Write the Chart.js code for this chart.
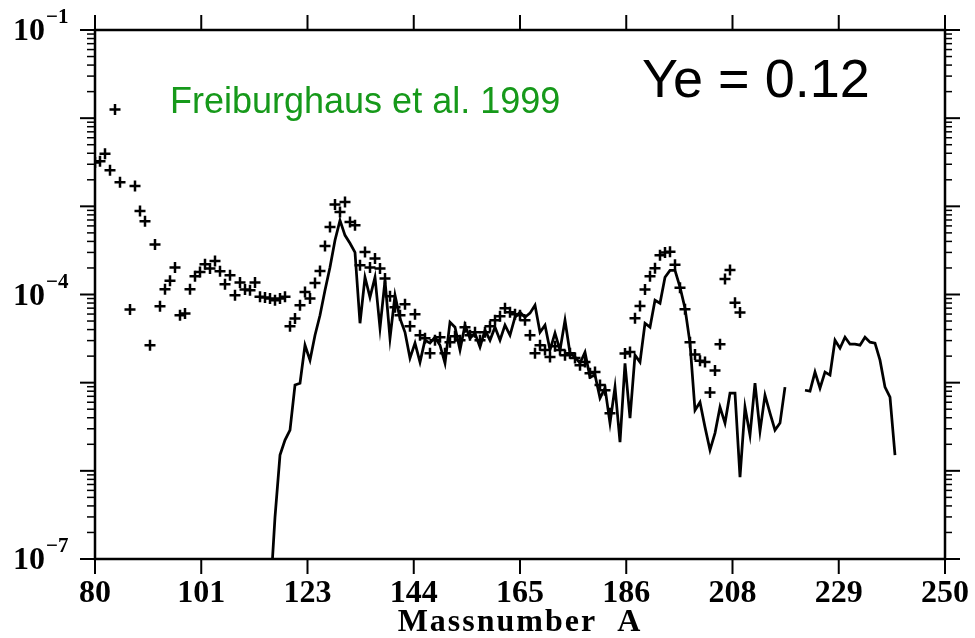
<!DOCTYPE html>
<html>
<head>
<meta charset="utf-8">
<script src="https://cdn.jsdelivr.net/npm/chart.js@4/dist/chart.umd.min.js"></script>
<style>
  html, body { margin: 0; padding: 0; background: #fff; }
  canvas { display: block; }
</style>
</head>
<body>
<canvas id="abund" width="975" height="638"></canvas>
<script>
// solar r-process abundances (crosses)
const solarA = [80, 81, 82, 83, 84, 85, 87, 88, 89, 90, 91, 92, 93, 94, 95, 96, 97, 98, 99,
  100, 101, 102, 103, 104, 105, 106, 107, 108, 109, 110, 111, 112, 113, 114, 115, 116, 117, 118, 119,
  120, 121, 122, 123, 124, 125, 126, 127, 128, 129, 130, 131, 132, 133, 134, 135, 136, 137, 138, 139,
  140, 141, 142, 143, 144, 145, 146, 147, 148, 149, 150, 151, 152, 153, 154, 155, 156, 157, 158, 159,
  160, 161, 162, 163, 164, 165, 166, 167, 168, 169, 170, 171, 172, 173, 174, 175, 176, 177, 178, 179,
  180, 181, 182, 183, 186, 187, 188, 189, 190, 191, 192, 193, 194, 195, 196, 197, 198, 199,
  200, 201, 202, 203, 204, 205, 206, 207, 208, 209];
const solarAbund = [3.15e-3, 3.24e-3, 3.96e-3, 2.56e-3, 1.25e-2, 1.88e-3, 6.76e-5, 1.70e-3, 8.85e-4, 6.76e-4,
  2.66e-5, 3.68e-4, 7.36e-5, 1.15e-4, 1.43e-4, 2.02e-4, 5.82e-5, 6.08e-5, 1.15e-4,
  1.61e-4, 1.80e-4, 2.20e-4, 1.97e-4, 2.40e-4, 1.83e-4, 1.31e-4, 1.65e-4, 9.8e-5, 1.37e-4,
  1.14e-4, 1.12e-4, 1.37e-4, 9.4e-5, 9.25e-5, 9.0e-5, 8.6e-5, 9.0e-5, 9.4e-5, 4.37e-5,
  5.35e-5, 7.56e-5, 1.07e-4, 9.0e-5, 1.35e-4, 1.85e-4, 3.55e-4, 5.83e-4, 1.05e-3, 8.62e-4,
  1.12e-3, 6.64e-4, 6.1e-4, 2.15e-4, 3.03e-4, 2.02e-4, 2.56e-4, 1.97e-4, 1.52e-4, 9.55e-5,
  7.18e-5, 5.82e-5, 7.76e-5, 4.37e-5, 5.97e-5, 3.45e-5, 3.19e-5, 2.16e-5, 3.03e-5, 3.28e-5,
  2.16e-5, 2.88e-5, 3.37e-5, 3.03e-5, 4.26e-5, 3.45e-5, 3.73e-5, 3.03e-5, 3.73e-5, 4.37e-5,
  5.11e-5, 5.67e-5, 6.98e-5, 6.30e-5, 5.97e-5, 5.82e-5, 5.11e-5, 3.45e-5, 2.16e-5, 2.66e-5,
  2.34e-5, 1.95e-5, 2.59e-5, 2.34e-5, 2.05e-5, 2.16e-5, 1.90e-5, 1.58e-5, 1.71e-5, 1.28e-5,
  1.32e-5, 9.4e-6, 8.2e-6, 4.51e-6, 2.14e-5, 2.23e-5, 5.38e-5, 7.42e-5, 1.14e-4, 1.61e-4,
  1.99e-4, 2.79e-4, 2.99e-4, 3.05e-4, 2.17e-4, 1.19e-4, 6.81e-5, 2.88e-5,
  2.08e-5, 1.77e-5, 1.72e-5, 7.75e-6, 1.37e-5, 2.73e-5, 1.50e-4, 1.90e-4, 8.07e-5, 6.25e-5];

// model abundances, one value per mass number starting at A = 115 (null = no value)
const modelStartA = 115;
const modelAbund = [3.43e-8, 2.99e-7, 1.51e-6, 2.23e-6, 2.90e-6,
  9.4e-6, 9.87e-6, 2.66e-5, 1.80e-5, 3.45e-5, 5.82e-5, 1.12e-4, 2.04e-4, 4.12e-4, 6.94e-4,
  4.69e-4, 3.81e-4, 3.01e-4, 4.72e-5, 1.57e-4, 9.3e-5, 1.57e-4, 4.15e-5, 1.45e-4, 3.19e-5,
  9.8e-5, 5.35e-5, 3.73e-5, 1.90e-5, 2.81e-5, 1.71e-5, 3.03e-5, 2.81e-5, 3.28e-5, 2.66e-5,
  1.66e-5, 4.85e-5, 4.26e-5, 2.34e-5, 4.49e-5, 3.19e-5, 3.64e-5, 2.53e-5, 3.94e-5, 3.03e-5,
  4.26e-5, 3.03e-5, 4.49e-5, 3.45e-5, 5.52e-5, 6.30e-5, 5.52e-5, 6.14e-5, 7.56e-5, 3.73e-5,
  4.49e-5, 2.34e-5, 3.64e-5, 2.34e-5, 5.11e-5, 2.16e-5, 1.95e-5, 1.66e-5, 2.21e-5, 1.15e-5,
  1.22e-5, 6.68e-6, 8.67e-6, 3.48e-6, 8.9e-6, 2.12e-6, 1.66e-5, 3.96e-6, 2.05e-5, 1.71e-5,
  4.72e-5, 4.26e-5, 8.6e-5, 7.96e-5, 1.57e-4, 1.88e-4, 1.88e-4, 1.21e-4, 6.98e-5, 2.81e-5,
  4.88e-6, 6.01e-6, 3.13e-6, 1.72e-6, 2.68e-6, 5.28e-6, 3.48e-6, 7.6e-6, 7.6e-6, 8.5e-7,
  5.28e-6, 2.54e-6, 9.87e-6, 2.82e-6, 7.22e-6, 4.51e-6, 2.90e-6, 3.48e-6, 8.9e-6,
  null, null, null,
  8.2e-6, 8.01e-6, 1.32e-5, 8.67e-6, 1.32e-5, 1.22e-5, 3.03e-5, 2.46e-5, 3.28e-5, 2.73e-5,
  2.73e-5, 2.66e-5, 3.28e-5, 2.88e-5, 2.81e-5, 1.80e-5, 8.9e-6, 6.85e-6, 1.51e-6];

const xMin = 80, xMax = 250;
const xTickLabels = ['80', '101', '123', '144', '165', '186', '208', '229', '250'];
const yLabelExps = [-7, -4, -1];

const serif = '"Liberation Serif", "Times New Roman", serif';

function line(ctx, x1, y1, x2, y2) {
  ctx.beginPath();
  ctx.moveTo(x1, y1);
  ctx.lineTo(x2, y2);
  ctx.stroke();
}

// frame, outward ticks on all four sides and the axis labels
const frameAxes = {
  id: 'frameAxes',
  afterDraw(chart) {
    const { ctx, chartArea: a } = chart;
    const x = chart.scales.x, y = chart.scales.y;
    ctx.save();
    ctx.strokeStyle = '#000';
    ctx.fillStyle = '#000';
    ctx.lineWidth = 2.5;
    ctx.strokeRect(a.left, a.top, a.right - a.left, a.bottom - a.top);

    const step = (xMax - xMin) / (xTickLabels.length - 1);
    ctx.font = 'bold 32px ' + serif;
    ctx.textAlign = 'center';
    ctx.textBaseline = 'alphabetic';
    xTickLabels.forEach((lab, i) => {
      const px = x.getPixelForValue(xMin + i * step);
      ctx.lineWidth = 2;
      line(ctx, px, a.top - 15, px, a.top);
      line(ctx, px, a.bottom, px, a.bottom + 15);
      ctx.fillText(lab, px, 602);
    });

    for (let e = -7; e <= -1; e++) {
      const py = y.getPixelForValue(Math.pow(10, e));
      ctx.lineWidth = 2;
      line(ctx, a.left - 15, py, a.left, py);
      line(ctx, a.right, py, a.right + 15, py);
      if (e === -1) continue;
      ctx.lineWidth = 1.5;
      for (let m = 2; m <= 9; m++) {
        const pm = y.getPixelForValue(m * Math.pow(10, e));
        line(ctx, a.left - 8, pm, a.left, pm);
        line(ctx, a.right, pm, a.right + 7, pm);
      }
    }

    yLabelExps.forEach(e => {
      const py = y.getPixelForValue(Math.pow(10, e));
      ctx.textAlign = 'right';
      ctx.textBaseline = 'middle';
      ctx.font = 'bold 32px ' + serif;
      ctx.fillText('10', 45, py + 2);
      ctx.textAlign = 'left';
      ctx.font = 'bold 21px ' + serif;
      ctx.fillText('\u2212' + (-e), 46, py - 12);
    });

    ctx.textAlign = 'center';
    ctx.textBaseline = 'alphabetic';
    ctx.font = 'bold 32px ' + serif;
    ctx.letterSpacing = '2px';
    ctx.fillText('Massnumber  A', (a.left + a.right) / 2, 631);
    ctx.letterSpacing = '0px';

    ctx.textAlign = 'left';
    ctx.font = '36px "Liberation Sans", Arial, sans-serif';
    ctx.fillStyle = '#16991a';
    ctx.fillText('Freiburghaus et al. 1999', 170, 113);
    ctx.font = '54px "Liberation Sans", Arial, sans-serif';
    ctx.fillStyle = '#000';
    ctx.fillText('Ye = 0.12', 642, 97);
    ctx.restore();
  }
};

const modelPoints = modelAbund.map((v, i) => ({ x: modelStartA + i, y: v }));
const solarPoints = solarA.map((a, i) => ({ x: a, y: solarAbund[i] }));

new Chart(document.getElementById('abund'), {
  type: 'scatter',
  data: {
    datasets: [{
      type: 'line',
      label: 'model',
      data: modelPoints,
      borderColor: '#000',
      borderWidth: 2.75,
      pointRadius: 0,
      tension: 0,
      fill: false,
      spanGaps: false
    }, {
      label: 'solar r',
      data: solarPoints,
      pointStyle: 'cross',
      pointRadius: 5.5,
      borderColor: '#000',
      borderWidth: 2.5,
      showLine: false
    }]
  },
  options: {
    responsive: false,
    animation: false,
    events: [],
    layout: { padding: { left: 95, right: 30, top: 30, bottom: 79 } },
    plugins: { legend: { display: false }, tooltip: { enabled: false } },
    scales: {
      x: { type: 'linear', min: xMin, max: xMax, display: false },
      y: { type: 'logarithmic', min: 1e-7, max: 1e-1, display: false }
    }
  },
  plugins: [frameAxes]
});
</script>
</body>
</html>
